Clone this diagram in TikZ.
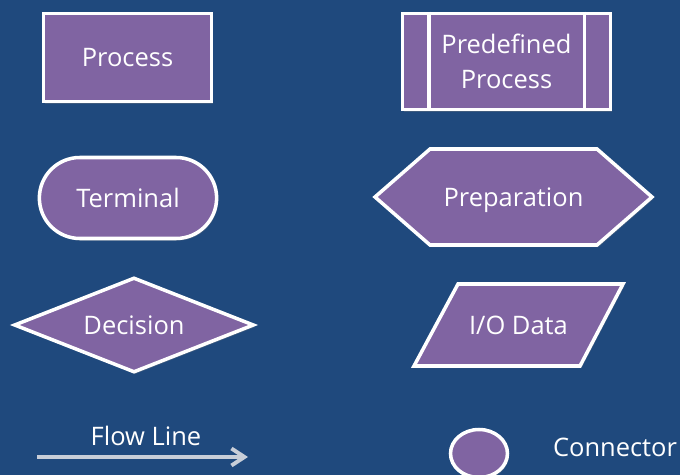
\documentclass[tikz,border=0pt]{standalone}
\usepackage{fontspec}
\setmainfont{Open Sans}
\usetikzlibrary{arrows.meta,calc,shapes.geometric,shapes.misc,shadows}
\definecolor{slideblue}{HTML}{1F497D}
\definecolor{symfill}{HTML}{8064A2}
\definecolor{flowgray}{HTML}{C8CED8}

\begin{document}
\begin{tikzpicture}[
    sym/.style={draw=white,fill=symfill,line width=2pt,text=white,
      font=\fontsize{14.5}{20}\selectfont,
      drop shadow={opacity=0.35,shadow xshift=0.8pt,shadow yshift=-1.2pt}},
    legendtext/.style={text=white,font=\fontsize{14.5}{20}\selectfont}]
  \fill[slideblue] (0,0) rectangle (13.6,9.5);
  \useasboundingbox (0,0) rectangle (13.6,9.5);
  \clip (0,0) rectangle (13.6,9.5);

  % left column
  \node[sym,rectangle,minimum width=3.36cm,minimum height=1.76cm] (proc) at (2.55,8.35) {Process};
  \node[sym,rounded rectangle,minimum width=3.78cm,minimum height=1.62cm] (term) at (2.56,5.54) {Terminal};
  \node[sym,diamond,aspect=2.5,minimum width=4.8cm,minimum height=1.9cm] (dec) at (2.68,3.0) {Decision};

  % right column
  \node[sym,rectangle,align=center,minimum width=4.16cm,minimum height=1.92cm] (pre) at (10.13,8.27) {Predefined\\Process};
  \draw[white,line width=2pt] ($(pre.north west)+(0.56,0)$) -- ($(pre.south west)+(0.56,0)$);
  \draw[white,line width=2pt] ($(pre.north east)+(-0.56,0)$) -- ($(pre.south east)+(-0.56,0)$);

  \draw[sym] (7.5,5.56) -- (8.6,6.52) -- (11.94,6.52) -- (13.04,5.56) -- (11.94,4.6) -- (8.6,4.6) -- cycle;
  \node[legendtext] (prep) at (10.27,5.5) {Preparation};

  \draw[sym] (9.16,3.82) -- (12.46,3.82) -- (11.6,2.18) -- (8.28,2.18) -- cycle;
  \node[legendtext] (io) at (10.37,3.0) {I/O Data};

  % bottom row
  \coordinate (flowA) at (0.74,0.36);
  \coordinate (flowB) at (4.96,0.36);
  \draw[flowgray,line width=2.2pt,-{Straight Barb[length=2.6mm,width=3.4mm]}] (flowA) -- (flowB);
  \node[legendtext] (flowlbl) at (2.92,0.78) {Flow Line};

  \node[sym,ellipse,minimum width=1.14cm,minimum height=0.96cm] (conn) at (9.58,0.43) {};
  \node[legendtext] (connlbl) at (12.3,0.56) {Connector};
\end{tikzpicture}
\end{document}
